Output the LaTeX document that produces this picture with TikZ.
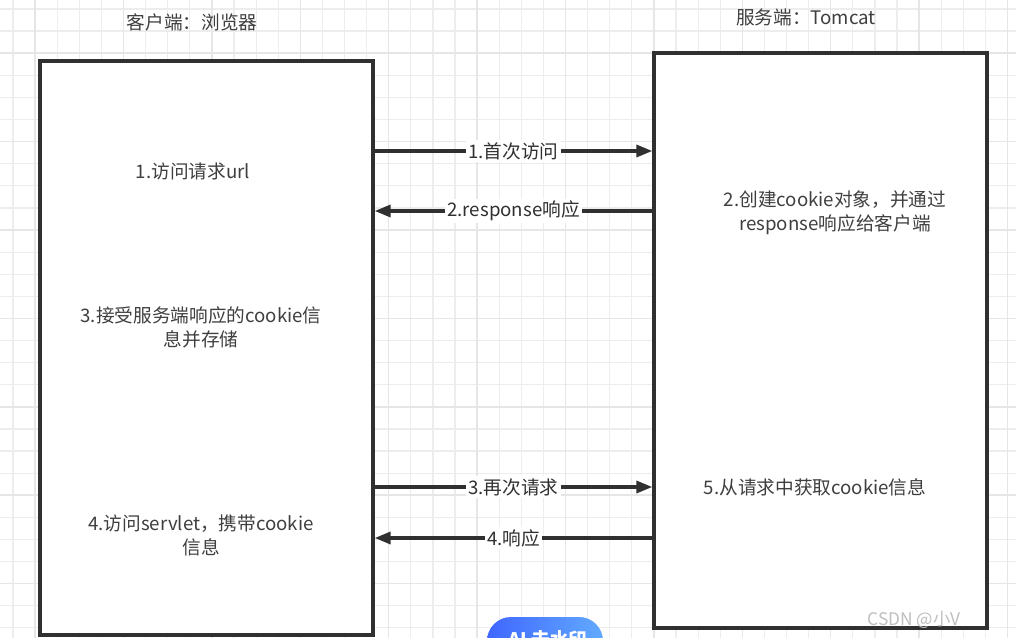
\documentclass[tikz,border=0pt]{standalone}
\usepackage{fontspec}
\setmainfont{Noto Sans CJK SC}
\usetikzlibrary{arrows.meta,calc}
\definecolor{ink}{HTML}{303030}
\definecolor{txtgray}{HTML}{3F3F3F}
\definecolor{gridminor}{HTML}{EDEDED}
\definecolor{gridmajor}{HTML}{E6E6E6}
\definecolor{btnleft}{HTML}{3F66FF}
\definecolor{btnright}{HTML}{62AAFF}
\tikzset{
  minorline/.style={draw=gridminor, line width=0.9pt},
  majorline/.style={draw=gridmajor, line width=1.1pt},
  panel/.style={draw=ink, line width=2.5pt, fill=white, inner sep=0pt, rectangle},
  txt/.style={text=txtgray, font=\fontsize{14}{18}\selectfont, align=center, inner sep=1pt},
  flow/.style={draw=ink, line width=2.5pt, -{Triangle[length=12pt,width=9pt]}},
  lbl/.style={fill=white, text=ink, font=\fontsize{14}{18}\selectfont, inner sep=1.5pt},
}
\begin{document}
\begin{tikzpicture}[x=0.75pt,y=-0.75pt]
\useasboundingbox (0,0) rectangle (1016,638);
\clip (0,0) rectangle (1016,638);
\fill[white] (0,0) rectangle (1016,638);
% background grid
\foreach \i in {0,...,46} \draw[minorline] ({13+22.1*\i},0) -- ({13+22.1*\i},638);
\foreach \j in {0,...,29} \draw[minorline] (0,{9+22.1*\j}) -- (1016,{9+22.1*\j});
\foreach \i in {0,...,11} \draw[majorline] ({35.1+88.4*\i},0) -- ({35.1+88.4*\i},638);
\foreach \j in {0,...,7} \draw[majorline] (0,{53.2+88.4*\j}) -- (1016,{53.2+88.4*\j});

% column titles
\node[txt] (ctitle) at (192,22) {客户端：浏览器};
\node[txt] (stitle) at (806,17) {服务端：Tomcat};

% the two participants
\node[panel, minimum width=249.75pt, minimum height=430.5pt] (client) at (206.5,348) {};
\node[panel, minimum width=249.75pt, minimum height=431.25pt] (server) at (820.5,340.5) {};

% steps inside the browser
\node[txt] (c1) at (193,171) {1.访问请求url};
\node[txt] (c3) at (201,327) {3.接受服务端响应的cookie信\\息并存储};
\node[txt] (c4) at (201,535) {4.访问servlet，携带cookie\\信息};

% steps inside the server
\node[txt] (s2) at (835,213) {2.创建cookie对象，并通过\\response响应给客户端};
\node[txt] (s5) at (815,487) {5.从请求中获取cookie信息};

% message rows
\coordinate (r1) at (0,151);
\coordinate (r2) at (0,211);
\coordinate (r3) at (0,487);
\coordinate (r4) at (0,538);
\draw[flow] (client.east |- r1) -- node[lbl] (m1) {1.首次访问} (server.west |- r1);
\draw[flow] (server.west |- r2) -- node[lbl] (m2) {2.response响应} (client.east |- r2);
\draw[flow] (client.east |- r3) -- node[lbl] (m3) {3.再次请求} (server.west |- r3);
\draw[flow] (server.west |- r4) -- node[lbl] (m4) {4.响应} (client.east |- r4);

% floating button and signature
\shade[left color=btnleft, right color=btnright, rounded corners=18pt] (487,617) rectangle (603,680);
\node[text=white, font=\fontsize{14}{16}\selectfont\bfseries, anchor=north west, inner sep=0pt] (btn) at (508,630) {AI 去水印};
\node[text=black!25, font=\fontsize{13}{15}\selectfont, inner sep=0pt] (wm) at (914,620) {CSDN @小V};
\end{tikzpicture}
\end{document}
